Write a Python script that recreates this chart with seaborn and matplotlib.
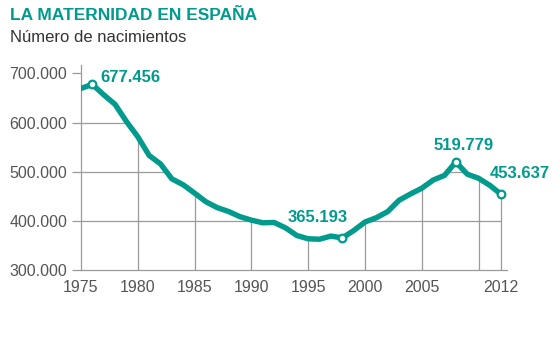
import matplotlib
matplotlib.use("Agg")
import matplotlib.pyplot as plt
import seaborn as sns
import pandas as pd
from matplotlib.ticker import FuncFormatter

years = list(range(1975, 2013))
births = [669378, 677456, 656357, 636892, 601992, 571018, 533008, 515706,
          485352, 473281, 456298, 438750, 426782, 418919, 408434, 401425,
          395989, 396747, 385786, 370148, 363469, 362626, 369035, 365193,
          380130, 397632, 406380, 418846, 441881, 454591, 466371, 482957,
          492527, 519779, 494997, 486575, 471999, 453637]
highlight_years = [1976, 1998, 2008, 2012]
highlight_labels = ["677.456", "365.193", "519.779", "453.637"]
vgrid_years = [1980, 1985, 1990, 1995, 2000, 2005, 2010, 2012]
yticks = [300000, 400000, 500000, 600000, 700000]
xtick_years = [1975, 1980, 1985, 1990, 1995, 2000, 2005, 2012]

TEAL = "#009B8D"
GRID = "#9a9a9a"

sns.set_theme(style="white")
plt.rcParams["font.family"] = ["Liberation Sans", "DejaVu Sans"]

df = pd.DataFrame({"year": years, "births": births})

fig = plt.figure(figsize=(5.6, 3.42), dpi=100)
ax = fig.add_axes([81/560, 1 - 270/342, 426/560, (270 - 65)/342])
ax.set_xlim(1975, 2012.5)
ax.set_ylim(300000, 717000)

# area under curve used as clip for horizontal gridlines
fill = ax.fill_between(years, births, 300000, color="none", linewidth=0)
clip_path = fill.get_paths()[0]
for yv in yticks[1:]:
    ln = ax.axhline(yv, color=GRID, lw=0.9, zorder=1)
    ln.set_clip_path(clip_path, ax.transData)

birth_map = dict(zip(years, births))
ax.vlines(vgrid_years, 300000, [birth_map[y] for y in vgrid_years],
          color=GRID, lw=0.9, zorder=1)

sns.lineplot(data=df, x="year", y="births", ax=ax, color=TEAL, lw=3.9,
             zorder=3, solid_capstyle="round", solid_joinstyle="round")
ax.plot(highlight_years, [birth_map[y] for y in highlight_years], "o",
        ms=5.5, mfc="white", mec=TEAL, mew=1.6, zorder=4)

offsets = [(5.5, 5, "left"), (-17.6, 15, "center"), (5.8, 11.5, "center"), (13, 15, "center")]
for yr, lab, (dx, dy, ha) in zip(highlight_years, highlight_labels, offsets):
    ax.annotate(lab, (yr, birth_map[yr]), xytext=(dx, dy), textcoords="offset points",
                ha=ha, va="center", fontsize=12, fontweight="bold", color=TEAL)

ax.set_yticks(yticks)
ax.yaxis.set_major_formatter(FuncFormatter(lambda v, p: f"{int(v):,}".replace(",", ".")))
ax.set_xticks(xtick_years)
ax.set_xticklabels([str(y) for y in xtick_years])
ax.tick_params(axis="y", length=6.5, width=0.9, color=GRID, pad=3.5,
               labelsize=11.5, labelcolor="#555555", direction="out", left=True)
ax.tick_params(axis="x", length=0, pad=7.5, labelsize=11.5, labelcolor="#555555")
ax.set_xlabel("")
ax.set_ylabel("")
for s in ["top", "right"]:
    ax.spines[s].set_visible(False)
for s in ["left", "bottom"]:
    ax.spines[s].set_color(GRID)
    ax.spines[s].set_linewidth(0.9)
ax.grid(False)

fig.text(10/560, 1 - 20/342, "LA MATERNIDAD EN ESPAÑA", fontsize=12.5, fontweight="bold",
         color=TEAL, ha="left", va="baseline")
fig.text(10/560, 1 - 42/342, "Número de nacimientos", fontsize=12,
         color="#333333", ha="left", va="baseline")

fig.savefig("out.png", dpi=100)
